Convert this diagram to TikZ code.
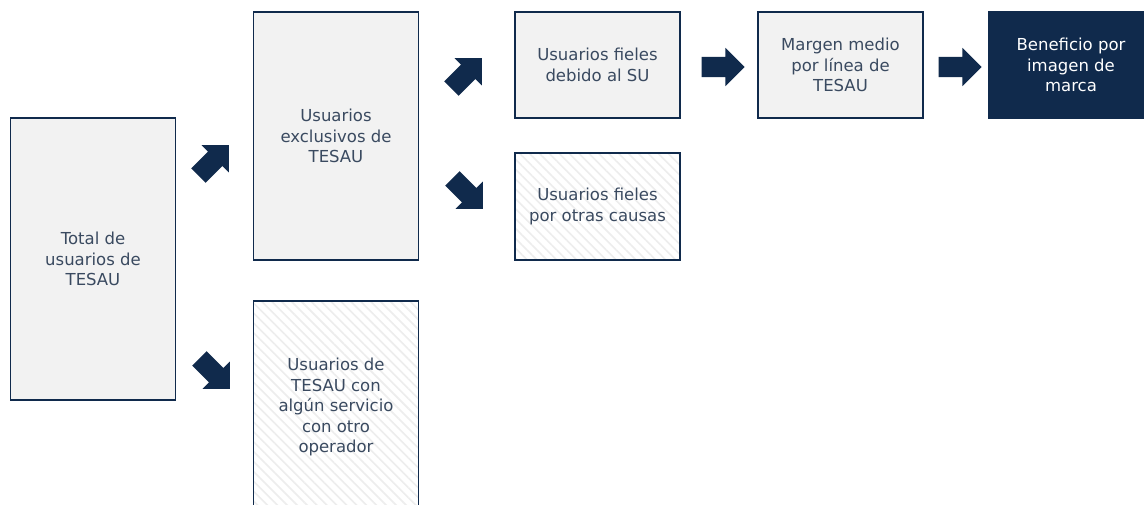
\documentclass[tikz,border=0pt]{standalone}
\usepackage{fontspec}
\setmainfont{DejaVu Sans}
\usepackage{tikz}
\usetikzlibrary{shapes.arrows,patterns.meta}
\definecolor{navy}{HTML}{102A4C}
\definecolor{slate}{HTML}{3A4A60}
\definecolor{boxgray}{HTML}{F2F2F2}

\begin{document}
\begin{tikzpicture}[x=1pt,y=-1pt,
    font=\fontsize{16.5}{20.5}\selectfont,
    box/.style={rectangle,draw=navy,line width=1.5pt,fill=boxgray,text=slate,align=center,minimum width=165pt},
    hatchbox/.style={rectangle,draw=navy,line width=1.5pt,text=slate,align=center,minimum width=165pt,
        preaction={fill=white},pattern={Lines[angle=-45,distance=7pt,line width=1.6pt]},pattern color=black!7},
    darkbox/.style={box,fill=navy,text=white},
    blockarrow/.style={single arrow,fill=navy,draw=none,inner sep=10pt,single arrow head extend=9pt,minimum height=43pt}]
    \clip (0,0) rectangle (1144,505);
    \fill[white] (0,0) rectangle (1144,505);
    \node[box] (total) at (93,259) [minimum height=282pt] {Total de\\usuarios de\\TESAU};
    \node[box] (excl) at (336,136) [minimum height=248pt] {Usuarios\\exclusivos de\\TESAU};
    \node[hatchbox] (otro) at (336,407) [minimum height=212pt] {Usuarios de\\TESAU con\\algún servicio\\con otro\\operador};
    \node[box] (fsu) at (597.5,65) [minimum height=106pt] {Usuarios fieles\\debido al SU};
    \node[hatchbox] (fotras) at (597.5,206.5) [minimum height=107pt] {Usuarios fieles\\por otras causas};
    \node[box] (margen) at (840.5,65) [minimum height=106pt] {Margen medio\\por línea de\\TESAU};
    \node[darkbox] (benef) at (1071,65) [minimum height=106pt] {Beneficio por\\imagen de\\marca};
    \node[blockarrow,rotate=45] (a1) at (210,164) {};
    \node[blockarrow,rotate=-45] (a2) at (211,370) {};
    \node[blockarrow,rotate=45] (a3) at (463,77) {};
    \node[blockarrow,rotate=-45] (a4) at (464,190) {};
    \node[blockarrow] (a5) at (718,67) {};
    \node[blockarrow] (a6) at (955,67) {};
\end{tikzpicture}
\end{document}
